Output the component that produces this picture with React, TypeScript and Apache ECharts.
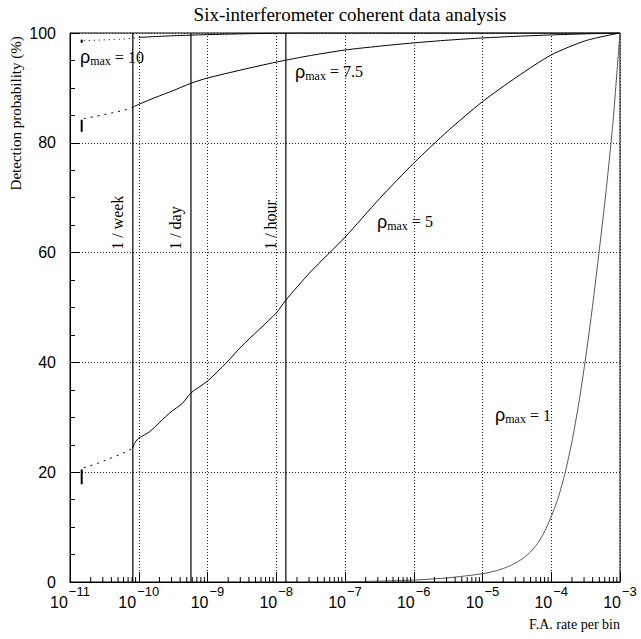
import React, { useEffect, useRef } from "react";
import * as echarts from "echarts";

// x values are given as log10 of the F.A. rate per bin
const rateMin = 1e-11;
const rateMax = 1e-3;

const rho10DottedLog = [-10.8, -10.6, -10.4, -10.2, -10.0];
const rho10DottedVal = [98.6, 98.7, 98.8, 98.9, 99.2];
const rho10SolidLog = [-10.0, -9.5, -9.0, -8.5, -8.0, -7.5, -7.0, -3.0];
const rho10SolidVal = [99.2, 99.5, 99.7, 99.85, 99.95, 100, 100, 100];
const rho10BarVal = [98.2, 98.8];

const rho75DottedLog = [-10.8, -10.6, -10.4, -10.2, -10.1];
const rho75DottedVal = [84.4, 84.9, 85.4, 86.0, 86.4];
const rho75SolidLog = [-10.1, -10.0, -9.75, -9.5, -9.25, -9.0, -8.5, -8.0, -7.5, -7.0, -6.5, -6.0, -5.5, -5.0, -4.5, -4.0, -3.5, -3.0];
const rho75SolidVal = [86.4, 87.0, 88.3, 89.5, 90.8, 91.8, 93.3, 94.7, 95.9, 96.9, 97.6, 98.2, 98.7, 99.1, 99.4, 99.65, 99.85, 100];
const rho75BarVal = [82.0, 84.2];

const rho5DottedLog = [-10.8, -10.6, -10.4, -10.2, -10.09];
const rho5DottedVal = [20.8, 21.6, 22.6, 23.6, 24.4];
const rho5SolidLog = [-10.09, -10.05, -10.0, -9.84, -9.55, -9.36, -9.245, -9.0, -8.72, -8.5, -8.0, -7.87, -7.5, -7.0, -6.5, -6.0, -5.5, -5.0, -4.5, -4.0, -3.5, -3.0];
const rho5SolidVal = [24.4, 25.5, 26.2, 27.4, 30.8, 32.6, 34.4, 36.6, 40.0, 43.0, 49.0, 51.2, 56.5, 62.8, 69.8, 76.3, 82.2, 87.5, 92.0, 96.0, 98.6, 100];
const rho5BarVal = [17.8, 20.5];

const rho1Log = [-7.0, -6.5, -6.0, -5.5, -5.0, -4.9, -4.8, -4.7, -4.6, -4.5, -4.4, -4.3, -4.2, -4.1, -4.0, -3.9, -3.8, -3.7, -3.6, -3.5, -3.4, -3.3, -3.2, -3.1, -3.05, -3.0];
const rho1Val = [0.05, 0.15, 0.35, 0.75, 1.5, 1.75, 2.05, 2.45, 2.95, 3.6, 4.4, 5.5, 7.0, 9.1, 11.9, 15.3, 19.8, 25.5, 32.5, 40.8, 50.2, 60.6, 71.5, 84.0, 92.0, 100];

const startBarLog = -10.83;

const rateWeek = 8.2e-11;
const rateDay = 5.75e-10;
const rateHour = 1.38e-8;
const rateLines = [rateWeek, rateDay, rateHour];
const rateLineLabels = ["1 / week", "1 / day", "1 / hour"];

const rhoLabels = ["10", "7.5", "5", "1"];
const rhoLabelLog = [-10.855, -7.727, -6.535, -4.818];
const rhoLabelVal = [95.6, 92.9, 65.6, 30.4];

const SERIF = '"Liberation Serif", "Times New Roman", serif';
const SANS = '"Liberation Sans", Arial, sans-serif';

export default function App() {
  const ref = useRef<HTMLDivElement>(null);
  useEffect(() => {
    const chart = echarts.init(ref.current!, null, { renderer: "svg" });
    const toPts = (lx: number[], v: number[]) => lx.map((e, i) => [Math.pow(10, e), v[i]]);
    const line = (data: any[], width: number, color: string, type: any = "solid", smooth: any = false) => ({
      type: "line",
      data,
      symbol: "none",
      showSymbol: false,
      silent: true,
      clip: true,
      z: 3,
      smooth,
      lineStyle: { color, width, type },
    });

    const minorX: number[][] = [];
    for (let d = -11; d < -3; d++) {
      for (let m = 2; m <= 9; m++) minorX.push([m * Math.pow(10, d), 0]);
    }

    const barX = Math.pow(10, startBarLog);

    const option: any = {
      animation: false,
      title: {
        text: "Six-interferometer coherent data analysis",
        left: 345,
        top: 0,
        textAlign: "center",
        textStyle: { fontFamily: SERIF, fontSize: 19, fontWeight: "normal", color: "#000" },
      },
      grid: {
        left: 70,
        right: 21,
        top: 33,
        bottom: 57,
        show: true,
        borderColor: "#000",
        borderWidth: 1,
        backgroundColor: "transparent",
      },
      xAxis: {
        type: "log",
        logBase: 10,
        min: rateMin,
        max: rateMax,
        splitNumber: 8,
        axisLine: { show: true, lineStyle: { color: "#000", width: 1 } },
        axisTick: { show: true, inside: true, length: 10, lineStyle: { color: "#000" } },
        splitLine: { show: true, lineStyle: { color: "#222", width: 1, type: [1, 2] } },
        axisLabel: {
          margin: 3,
          formatter: (v: number) => {
            const e = Math.round(Math.log10(v));
            return "{b|10}{e|" + String(e).replace("-", "\u2212") + "}";
          },
          rich: {
            b: { fontFamily: SANS, fontSize: 16, color: "#000", padding: [8, 0, 0, 0] },
            e: { fontFamily: SANS, fontSize: 13, color: "#000", padding: [0, 0, 14, 1] },
          },
        },
      },
      yAxis: {
        type: "value",
        min: 0,
        max: 100,
        interval: 20,
        axisLine: { show: true, lineStyle: { color: "#000", width: 1 } },
        axisTick: { show: true, inside: true, length: 10, lineStyle: { color: "#000" } },
        minorTick: { show: true, splitNumber: 4, length: 5, lineStyle: { color: "#000" } },
        splitLine: { show: true, lineStyle: { color: "#222", width: 1, type: [1, 2] } },
        axisLabel: { margin: 14, fontFamily: SANS, fontSize: 16, color: "#000" },
      },
      series: [
        line(toPts(rho10DottedLog, rho10DottedVal), 1, "#000", [1, 4]),
        line(toPts(rho10SolidLog, rho10SolidVal), 1, "#000", "solid", 0.25),
        line(rho10BarVal.map((v) => [barX, v]), 2, "#000"),
        line(toPts(rho75DottedLog, rho75DottedVal), 1, "#000", [2, 5]),
        line(toPts(rho75SolidLog, rho75SolidVal), 1, "#000", "solid", 0.25),
        line(rho75BarVal.map((v) => [barX, v]), 2, "#000"),
        line(toPts(rho5DottedLog, rho5DottedVal), 1, "#000", [2, 5]),
        line(toPts(rho5SolidLog, rho5SolidVal), 1, "#000", "solid", 0.25),
        line(rho5BarVal.map((v) => [barX, v]), 2, "#000"),
        line(toPts(rho1Log, rho1Val), 1, "#555", "solid", 0.2),
        ...rateLines.map((r) => line([[r, 0], [r, 100]], 1.2, "#000")),
        {
          type: "custom",
          silent: true,
          clip: false,
          z: 4,
          data: minorX,
          renderItem: (params: any, api: any) => {
            const p = api.coord([api.value(0), 0]);
            return {
              type: "line",
              shape: { x1: p[0], y1: p[1], x2: p[0], y2: p[1] - 5 },
              style: { stroke: "#000", lineWidth: 1 },
            };
          },
        },
      ],
    };
    chart.setOption(option);

    const px = (x: number, y: number) => chart.convertToPixel({ gridIndex: 0 }, [x, y]) as number[];
    const graphics: any[] = [];
    rateLines.forEach((r, i) => {
      const p = px(r, 60.5);
      graphics.push({
        type: "text",
        x: p[0] - 15,
        y: p[1],
        rotation: Math.PI / 2,
        silent: true,
        style: {
          text: rateLineLabels[i],
          fontFamily: SERIF,
          fontSize: 16,
          fill: "#000",
          textAlign: "left",
          verticalAlign: "middle",
        },
      });
    });
    rhoLabels.forEach((t, i) => {
      const p = px(Math.pow(10, rhoLabelLog[i]), rhoLabelVal[i]);
      graphics.push({
        type: "text",
        x: p[0],
        y: p[1],
        silent: true,
        style: {
          text: "{r|\u03c1}{s|max}{t| = " + t + "}",
          textAlign: "left",
          verticalAlign: "middle",
          rich: {
            r: { fontFamily: SANS, fontSize: 18, fill: "#000" },
            s: { fontFamily: SERIF, fontSize: 12, fill: "#000", padding: [8, 0, 0, 0] },
            t: { fontFamily: SERIF, fontSize: 16, fill: "#000" },
          },
        },
      });
    });
    const yMid = px(rateMin, 85);
    graphics.push({
      type: "text",
      x: 16,
      y: yMid[1] - 2,
      rotation: Math.PI / 2,
      silent: true,
      style: {
        text: "Detection probability (%)",
        fontFamily: SERIF,
        fontSize: 15,
        fill: "#000",
        textAlign: "center",
        verticalAlign: "middle",
      },
    });
    const xEnd = px(rateMax, 0);
    graphics.push({
      type: "text",
      x: xEnd[0],
      y: 624,
      silent: true,
      style: {
        text: "F.A. rate per bin",
        fontFamily: SERIF,
        fontSize: 14,
        fill: "#000",
        textAlign: "right",
        verticalAlign: "middle",
      },
    });
    chart.setOption({ graphic: graphics });

    return () => chart.dispose();
  }, []);
  return <div ref={ref} style={{ position: "fixed", left: 0, top: 0, width: 641, height: 639, background: "#fff" }} />;
}
